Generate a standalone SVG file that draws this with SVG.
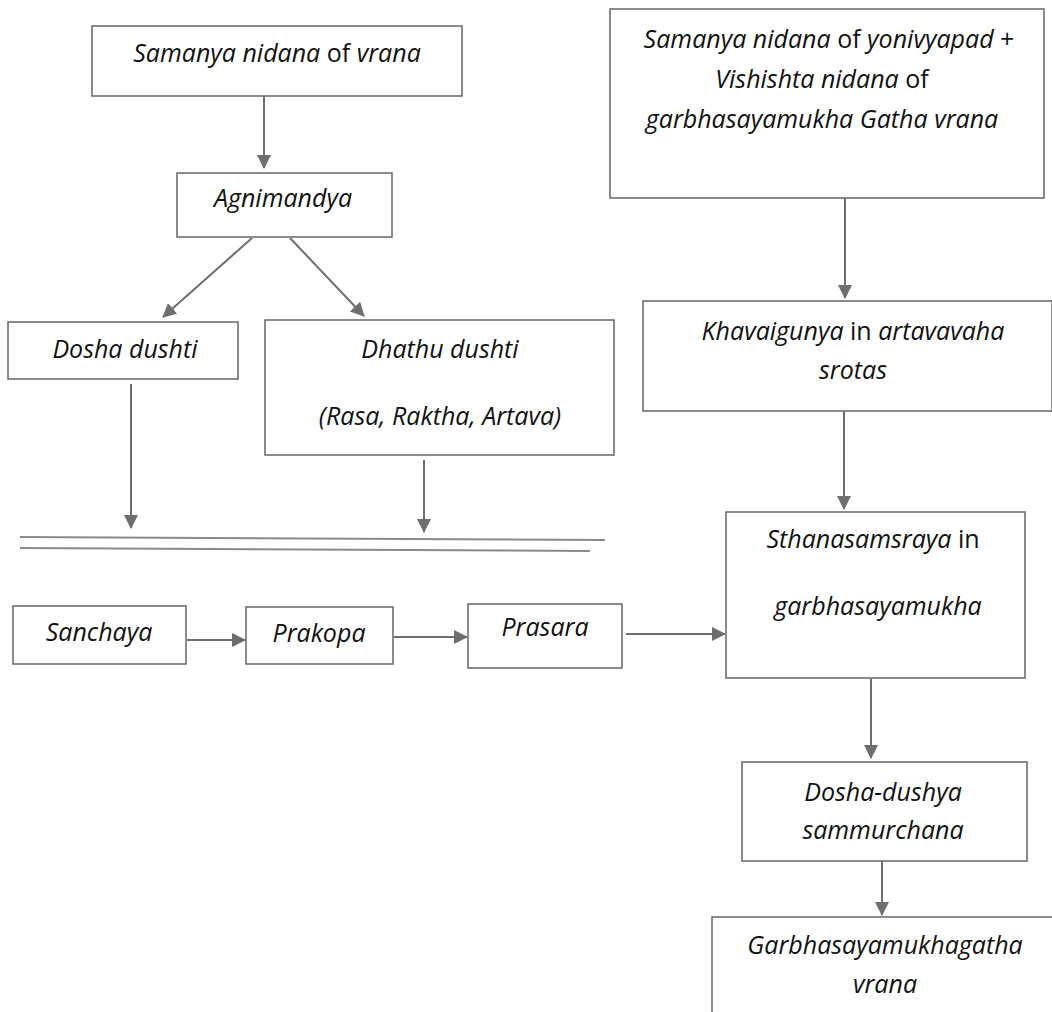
<svg xmlns="http://www.w3.org/2000/svg" width="1052" height="1012" viewBox="0 0 1052 1012">
<style>
.box{fill:#fff;stroke:#666;stroke-width:1.5}
.t{font-family:"Open Sans","DejaVu Sans",sans-serif;font-size:25px;font-style:italic;fill:#111;text-anchor:middle}
.n{font-style:normal}
.c{stroke:#6e6e6e;stroke-width:2;fill:none}
.dl{stroke:#8a8a8a;stroke-width:2;fill:none}
</style>
<defs>
<marker id="ah" markerUnits="userSpaceOnUse" markerWidth="14" markerHeight="14" refX="13" refY="7" orient="auto">
<path d="M0,0 L14,7 L0,14 Z" fill="#6e6e6e"/>
</marker>
</defs>
<rect width="1052" height="1012" fill="#fff"/>

<g id="n1"><rect class="box" x="92" y="26" width="370" height="70"/>
<text class="t" x="277" y="62">Samanya nidana<tspan class="n"> of </tspan>vrana</text></g>

<g id="n2"><rect class="box" x="177" y="173" width="215" height="64"/>
<text class="t" x="283" y="207">Agnimandya</text></g>

<g id="n3"><rect class="box" x="8" y="322" width="230" height="57"/>
<text class="t" x="125" y="358">Dosha dushti</text></g>

<g id="n4"><rect class="box" x="265" y="320" width="349" height="135"/>
<text class="t" x="440" y="358">Dhathu dushti</text>
<text class="t" x="440" y="425">(Rasa, Raktha, Artava)</text></g>

<g id="n5"><rect class="box" x="13" y="606" width="173" height="58"/>
<text class="t" x="99" y="641">Sanchaya</text></g>

<g id="n6"><rect class="box" x="246" y="607" width="147" height="57"/>
<text class="t" x="319" y="642">Prakopa</text></g>

<g id="n7"><rect class="box" x="468" y="604" width="154" height="64"/>
<text class="t" x="545" y="636">Prasara</text></g>

<g id="n8"><rect class="box" x="610" y="9" width="434" height="189"/>
<text class="t" x="829" y="48">Samanya nidana<tspan class="n"> of </tspan>yonivyapad<tspan class="n"> +</tspan></text>
<text class="t" x="822" y="88">Vishishta nidana<tspan class="n"> of</tspan></text>
<text class="t" x="822" y="128">garbhasayamukha Gatha vrana</text></g>

<g id="n9"><rect class="box" x="643" y="301" width="409" height="110"/>
<text class="t" x="853" y="340">Khavaigunya<tspan class="n"> in </tspan>artavavaha</text>
<text class="t" x="853" y="379">srotas</text></g>

<g id="n10"><rect class="box" x="726" y="512" width="299" height="166"/>
<text class="t" x="873" y="548">Sthanasamsraya<tspan class="n"> in</tspan></text>
<text class="t" x="878" y="615">garbhasayamukha</text></g>

<g id="n11"><rect class="box" x="742" y="762" width="285" height="99"/>
<text class="t" x="883" y="801">Dosha-dushya</text>
<text class="t" x="883" y="839">sammurchana</text></g>

<g id="n12"><rect class="box" x="712" y="917" width="345" height="110"/>
<text class="t" x="885" y="954">Garbhasayamukhagatha</text>
<text class="t" x="885" y="993">vrana</text></g>

<g id="connectors">
<line class="c" x1="264" y1="96" x2="264" y2="168" marker-end="url(#ah)"/>
<line class="c" x1="252" y1="238" x2="163" y2="317" marker-end="url(#ah)"/>
<line class="c" x1="290" y1="238" x2="364" y2="316" marker-end="url(#ah)"/>
<line class="c" x1="131" y1="384" x2="131" y2="528" marker-end="url(#ah)"/>
<line class="c" x1="424" y1="460" x2="424" y2="532" marker-end="url(#ah)"/>
<line class="dl" x1="20" y1="537" x2="605" y2="540"/>
<line class="dl" x1="20" y1="548" x2="590" y2="551"/>
<line class="c" x1="187" y1="640" x2="245" y2="640" marker-end="url(#ah)"/>
<line class="c" x1="394" y1="637" x2="467" y2="637" marker-end="url(#ah)"/>
<line class="c" x1="626" y1="634" x2="725" y2="634" marker-end="url(#ah)"/>
<line class="c" x1="845" y1="198" x2="845" y2="298" marker-end="url(#ah)"/>
<line class="c" x1="844" y1="411" x2="844" y2="509" marker-end="url(#ah)"/>
<line class="c" x1="871" y1="679" x2="871" y2="758" marker-end="url(#ah)"/>
<line class="c" x1="882" y1="861" x2="882" y2="915" marker-end="url(#ah)"/>
</g>
</svg>
